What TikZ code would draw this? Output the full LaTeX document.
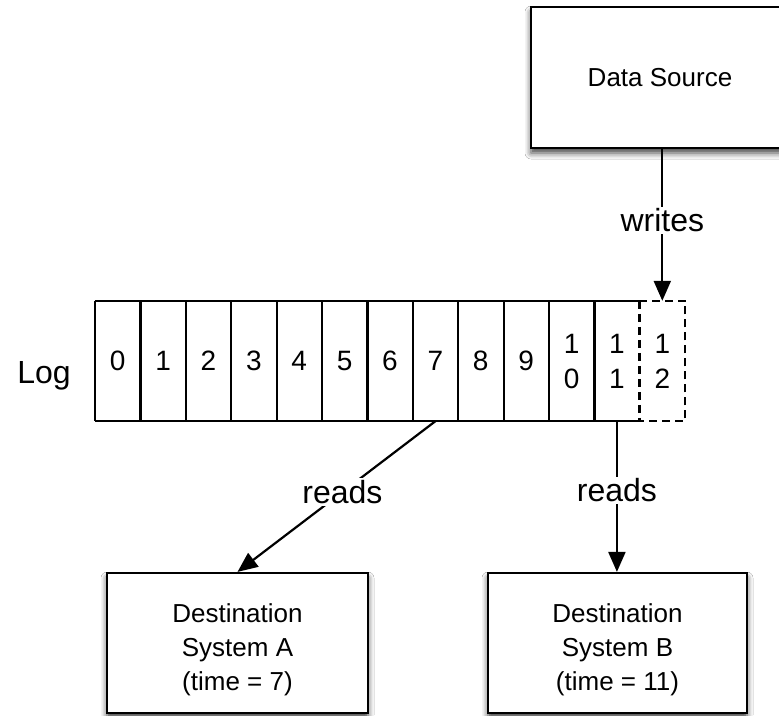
\documentclass[tikz,border=0pt]{standalone}
\usepackage{fontspec}
\setmainfont{Liberation Sans}
\usetikzlibrary{arrows.meta,shadows.blur}
\begin{document}
\begin{tikzpicture}[x=1pt,y=-1pt,
  lw/.style={line width=2.2pt},
  box/.style={draw,lw,fill=white,inner sep=0pt,align=center,
    font=\fontsize{26}{34}\selectfont,
    blur shadow={shadow xshift=0pt,shadow yshift=-5pt,shadow blur radius=6pt,shadow opacity=75}},
  cell/.style={inner sep=0pt,minimum width=45.38pt,minimum height=120pt,align=center,
    font=\fontsize{28}{35}\selectfont},
  lbl/.style={fill=white,inner sep=2pt,font=\fontsize{32}{38}\selectfont},
  arr/.style={lw,-{Triangle[length=20pt,width=17pt]}},
  dsh/.style={lw,dash pattern=on 8pt off 5pt}
]
\clip (0,0) rectangle (779,715);
\fill[white] (0,0) rectangle (779,715);

\node[box,minimum width=258pt,minimum height=141pt] (ds) at (660,77.5) {Data Source};

\foreach \i/\t in {0/0,1/1,2/2,3/3,4/4,5/5,6/6,7/7,8/8,9/9,10/{1\\0},11/{1\\1},12/{1\\2}}
  \node[cell] (c\i) at (95+45.385*\i+22.69,361) {\t};

\draw[lw] (c0.north west) -- (c11.north east);
\draw[lw] (c0.south west) -- (c11.south east);
\draw[lw] (c0.north west) -- (c0.south west);
\foreach \i in {0,...,10} \draw[lw] (c\i.north east) -- (c\i.south east);
\draw[dsh] (c12.north west) rectangle (c12.south east);

\node[anchor=base,font=\fontsize{32}{38}\selectfont] (loglbl) at (44,383) {Log};

\node[box,minimum width=261pt,minimum height=140pt] (dA) at (237.5,643) {\rule{0pt}{32pt}Destination\\System A\\(time = 7)};
\node[box,minimum width=259pt,minimum height=140pt] (dB) at (617.5,643) {\rule{0pt}{32pt}Destination\\System B\\(time = 11)};

\draw[arr] (c12.north |- ds.south) -- node[lbl,pos=0.47] {writes} (c12.north);
\draw[arr] (c7.south) -- node[lbl,pos=0.47] {reads} (dA.north);
\draw[arr] (c11.south) -- node[lbl,pos=0.46] {reads} (dA.north -| c11.south);
\end{tikzpicture}
\end{document}
